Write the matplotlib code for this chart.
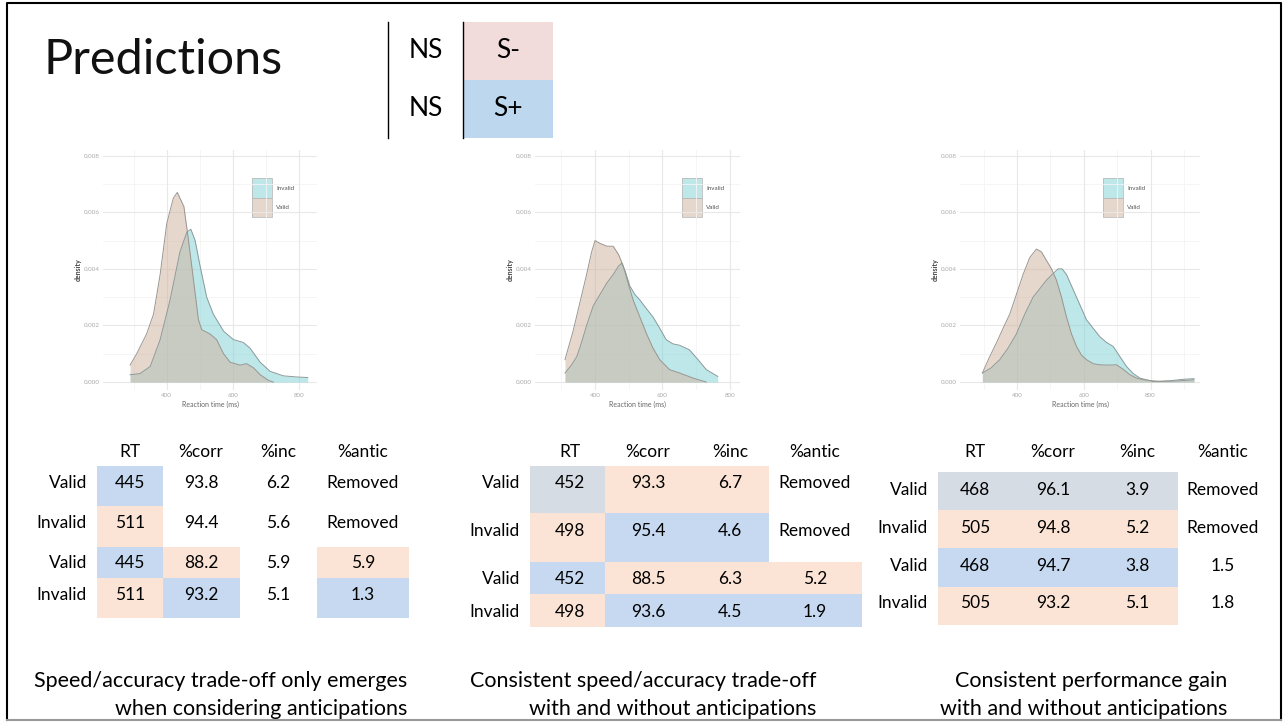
import matplotlib
matplotlib.use("Agg")
import matplotlib.pyplot as plt
from matplotlib.patches import Rectangle
import numpy as np

plt.rcParams['font.family'] = ['Lato', 'DejaVu Sans']

W, H = 1284, 724

# === Data: density curves (RT in ms, density) ===
p1_valid_rt = [289, 309, 339, 360, 380, 400, 420, 432, 452, 466, 481, 496, 506, 531, 551,
               572, 592, 622, 642, 663, 683, 708, 723]
p1_valid_d = [0.0006, 0.001, 0.0017, 0.0024, 0.0038, 0.0056, 0.0065, 0.0067, 0.0062, 0.0050,
              0.0036, 0.0022, 0.00185, 0.0017, 0.0015, 0.001, 0.0007, 0.0006, 0.00065, 0.0005,
              0.00026, 0.00006, 0.0]
p1_invalid_rt = [289, 319, 350, 380, 410, 440, 461, 473, 486, 501, 521, 541, 572, 602, 632,
                 652, 683, 713, 753, 794, 827]
p1_invalid_d = [0.00026, 0.0003, 0.00055, 0.0015, 0.0029, 0.0046, 0.0053, 0.0054, 0.0050,
                0.0041, 0.0030, 0.0024, 0.0018, 0.0015, 0.0014, 0.0012, 0.0007, 0.00038,
                0.00022, 0.00018, 0.00016]

p2_valid_rt = [311, 323, 336, 355, 375, 390, 400, 415, 435, 454, 470, 484, 498, 513, 533,
               553, 572, 592, 621, 651, 691, 730]
p2_valid_d = [0.00079, 0.0013, 0.00185, 0.0028, 0.0038, 0.0046, 0.0050, 0.0049, 0.0048, 0.0048,
              0.0045, 0.0041, 0.0035, 0.0029, 0.0023, 0.0017, 0.0012, 0.00079, 0.00044, 0.00032,
              0.00014, 0.0]
p2_invalid_rt = [311, 330, 346, 360, 375, 395, 415, 435, 454, 470, 479, 490, 503, 518, 533,
                 552, 572, 592, 611, 631, 651, 680, 705, 730, 764]
p2_invalid_d = [0.00032, 0.0006, 0.0009, 0.0014, 0.0020, 0.0027, 0.0031, 0.0035, 0.0038, 0.0041,
                0.0042, 0.0039, 0.0034, 0.0031, 0.0029, 0.0026, 0.0023, 0.0019, 0.0015, 0.00135,
                0.0013, 0.00114, 0.0008, 0.00044, 0.0002]

p3_valid_rt = [296, 318, 338, 358, 378, 398, 418, 438, 458, 473, 488, 503, 518, 533, 548, 563,
               578, 593, 608, 628, 648, 673, 698, 718, 738, 758, 778, 828, 880, 930]
p3_valid_d = [0.00032, 0.0009, 0.00138, 0.0019, 0.0024, 0.0031, 0.0038, 0.0044, 0.0047, 0.0046,
              0.0043, 0.0040, 0.0036, 0.0030, 0.0023, 0.0017, 0.00126, 0.00095, 0.00079, 0.00065,
              0.00061, 0.0006, 0.00061, 0.00045, 0.00026, 0.00014, 0.00008, 0.00002, 0.00004,
              0.00008]
p3_invalid_rt = [296, 322, 348, 373, 398, 423, 448, 468, 488, 505, 523, 535, 548, 563, 578,
                 593, 608, 628, 648, 668, 688, 708, 728, 748, 768, 808, 860, 900, 930]
p3_invalid_d = [0.00032, 0.0005, 0.00079, 0.0012, 0.0017, 0.0024, 0.0030, 0.0033, 0.0036, 0.0038,
                0.0040, 0.0040, 0.0038, 0.0034, 0.0030, 0.0026, 0.0022, 0.0019, 0.0016, 0.0014,
                0.00126, 0.0009, 0.00055, 0.0003, 0.00014, 0.00002, 0.00005, 0.0001, 0.00012]

legend_labels = ["Invalid", "Valid"]

# === Data: tables ===
col_headers = ["RT", "%corr", "%inc", "%antic"]
row_labels = ["Valid", "Invalid", "Valid", "Invalid"]

t1_values = [["445", "93.8", "6.2", "Removed"],
             ["511", "94.4", "5.6", "Removed"],
             ["445", "88.2", "5.9", "5.9"],
             ["511", "93.2", "5.1", "1.3"]]
t1_colors = [["b", "", "", ""],
             ["t", "", "", ""],
             ["b", "t", "", "t"],
             ["t", "b", "", "b"]]

t2_values = [["452", "93.3", "6.7", "Removed"],
             ["498", "95.4", "4.6", "Removed"],
             ["452", "88.5", "6.3", "5.2"],
             ["498", "93.6", "4.5", "1.9"]]
t2_colors = [["g", "t", "t", ""],
             ["t", "b", "b", ""],
             ["b", "t", "t", "t"],
             ["t", "b", "b", "b"]]

t3_values = [["468", "96.1", "3.9", "Removed"],
             ["505", "94.8", "5.2", "Removed"],
             ["468", "94.7", "3.8", "1.5"],
             ["505", "93.2", "5.1", "1.8"]]
t3_colors = [["g", "g", "g", ""],
             ["t", "t", "t", ""],
             ["b", "b", "b", ""],
             ["t", "t", "t", ""]]

captions = [["Speed/accuracy trade-off only emerges", "when considering anticipations"],
            ["Consistent speed/accuracy trade-off", "with and without anticipations"],
            ["Consistent performance gain", "with and without anticipations"]]

key_rows = ["NS", "NS"]
key_cells = ["S-", "S+"]

# === Styles ===
CELL = {"b": "#c6d9f0", "t": "#fbe4d5", "g": "#d6dce4"}
VALID_C = (209 / 255, 181 / 255, 162 / 255)
INVALID_C = (125 / 255, 209 / 255, 213 / 255)

fig = plt.figure(figsize=(W / 100, H / 100), dpi=100)
bg = fig.add_axes([0, 0, 1, 1])
bg.set_xlim(0, W)
bg.set_ylim(H, 0)
bg.axis('off')

# slide frame
bg.plot([7, 7, 1281, 1281], [720, 3, 3, 720], color='black', lw=1.5)
bg.plot([7, 1281], [720, 720], color='#999999', lw=1.5)

# title
bg.text(43, 60, "Predictions", fontsize=35, fontweight='normal', va='center', ha='left',
        color='#111111')

# key box
bg.plot([388, 388], [22, 138], color='black', lw=1)
bg.plot([463, 463], [22, 138], color='black', lw=1)
bg.add_patch(Rectangle((464, 22), 89, 58, facecolor='#f2dcdb', edgecolor='none'))
bg.add_patch(Rectangle((464, 80), 89, 58, facecolor='#bdd7ee', edgecolor='none'))
for i, (a, b) in enumerate(zip(key_rows, key_cells)):
    yy = 51 + i * 58
    bg.text(426, yy, a, fontsize=19, ha='center', va='center')
    bg.text(508, yy, b, fontsize=19, ha='center', va='center')


def px_axes(x0, y0, x1, y1):
    return fig.add_axes([x0 / W, 1 - y1 / H, (x1 - x0) / W, (y1 - y0) / H])


def density_panel(box, xlim, v_rt, v_d, i_rt, i_d, leg_xy):
    ax = px_axes(*box)
    ax.set_xlim(*xlim)
    ax.set_ylim(-0.00028, 0.0082)
    for y in np.arange(0.001, 0.0081, 0.002):
        ax.axhline(y, color='#f4f4f4', lw=0.6, zorder=0)
    for x in [300, 500, 700, 900]:
        ax.axvline(x, color='#f4f4f4', lw=0.6, zorder=0)
    for y in np.arange(0, 0.0081, 0.002):
        ax.axhline(y, color='#e8e8e8', lw=0.8, zorder=0)
    for x in [400, 600, 800]:
        ax.axvline(x, color='#e8e8e8', lw=0.8, zorder=0)
    ax.fill_between(i_rt, 0, i_d, color=INVALID_C, alpha=0.5, lw=0)
    ax.plot(i_rt, i_d, color='#8a9a9a', lw=0.7)
    ax.fill_between(v_rt, 0, v_d, color=VALID_C, alpha=0.54, lw=0)
    ax.plot(v_rt, v_d, color='#9a9590', lw=0.7)
    ax.set_xticks([400, 600, 800])
    ax.set_yticks(np.arange(0, 0.0081, 0.002))
    ax.set_yticklabels(["%.3f" % v for v in np.arange(0, 0.0081, 0.002)])
    ax.tick_params(length=0, labelsize=4.5, labelcolor='#aaaaaa', pad=2)
    for s in ax.spines.values():
        s.set_visible(False)
    ax.set_xlabel("Reaction time (ms)", fontsize=5, color='#666666', labelpad=2)
    ax.set_ylabel("density", fontsize=5, color='#444444', fontweight='bold', labelpad=2)
    ax.patch.set_alpha(0)
    # legend keys
    lx, ly = leg_xy
    cols = [INVALID_C, VALID_C]
    alphas = [0.5, 0.54]
    for k, (lab, c, a) in enumerate(zip(legend_labels, cols, alphas)):
        bg.add_patch(Rectangle((lx, ly + k * 19.5), 20, 19.5, facecolor=c, alpha=a,
                               edgecolor='none', zorder=5))
        bg.add_patch(Rectangle((lx, ly + k * 19.5), 20, 19.5, facecolor='none',
                               edgecolor='#bbbbbb', lw=0.6, zorder=6))
        bg.text(lx + 24, ly + k * 19.5 + 10, lab, fontsize=4.5, color='#555555',
                va='center', ha='left', zorder=6)
    return ax


density_panel((103, 150, 317, 390), (207, 855), p1_valid_rt, p1_valid_d,
              p1_invalid_rt, p1_invalid_d, (252, 178))
density_panel((535, 150, 740, 390), (222, 830), p2_valid_rt, p2_valid_d,
              p2_invalid_rt, p2_invalid_d, (682, 178))
density_panel((960, 150, 1200, 390), (229, 948), p3_valid_rt, p3_valid_d,
              p3_invalid_rt, p3_invalid_d, (1103, 178))


def draw_table(values, colors, col_x, col_edges, row_edges, row_y, label_x, header_y=452):
    for j, h in enumerate(col_headers):
        bg.text(col_x[j], header_y, h, fontsize=12.5, ha='center', va='center')
    for i in range(4):
        for j in range(4):
            c = colors[i][j]
            if c:
                bg.add_patch(Rectangle((col_edges[j], row_edges[i]),
                                       col_edges[j + 1] - col_edges[j],
                                       row_edges[i + 1] - row_edges[i],
                                       facecolor=CELL[c], edgecolor='none'))
            bg.text(col_x[j], row_y[i], values[i][j], fontsize=12.5, ha='center', va='center')
        bg.text(label_x, row_y[i], row_labels[i], fontsize=12.5, ha='right', va='center')


draw_table(t1_values, t1_colors,
           [130, 201, 278, 363], [97, 163, 240, 317, 409],
           [466, 506, 547, 578, 618], [483, 523, 563, 595], 87)
draw_table(t2_values, t2_colors,
           [570, 648, 730, 815], [530, 605, 690, 769, 862],
           [466, 513, 562, 594, 627], [483, 531, 579, 612], 520)
draw_table(t3_values, t3_colors,
           [975, 1053, 1137, 1223], [938, 1014, 1095, 1178, 1178],
           [472, 510, 548, 587, 625], [490, 528, 566, 603], 928)

# captions
cap_right = [407, 816, 1227]
for (l1, l2), xr in zip(captions, cap_right):
    bg.text(xr, 681, l1, fontsize=15.5, ha='right', va='center')
    bg.text(xr, 709, l2, fontsize=15.5, ha='right', va='center')

fig.savefig("out.png", dpi=100)
